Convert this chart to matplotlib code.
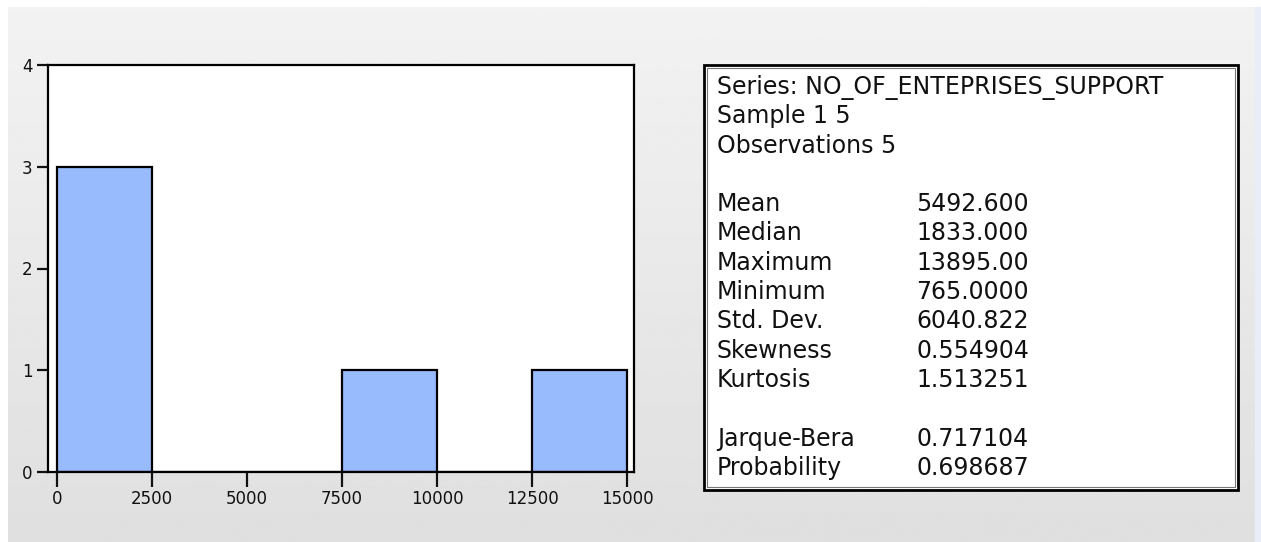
"""Histogram and descriptive statistics, EViews style"""
import numpy as np
import matplotlib.pyplot as plt
from matplotlib.patches import Rectangle

# histogram bins (left edges) and counts
bin_left = [0, 2500, 5000, 7500, 10000, 12500]
bin_width = 2500
counts = [3, 0, 0, 1, 0, 1]
xticks = [0, 2500, 5000, 7500, 10000, 12500, 15000]
yticks = [0, 1, 2, 3, 4]

# statistics panel
header = ["Series: NO_OF_ENTEPRISES_SUPPORT", "Sample 1 5", "Observations 5"]
stat_names = ["Mean", "Median", "Maximum", "Minimum", "Std. Dev.",
              "Skewness", "Kurtosis"]
stat_values = ["5492.600", "1833.000", "13895.00", "765.0000", "6040.822",
               "0.554904", "1.513251"]
test_names = ["Jarque-Bera", "Probability"]
test_values = ["0.717104", "0.698687"]

W, H = 1261, 542
fig = plt.figure(figsize=(W / 100, H / 100), dpi=100, facecolor="white")

# background panel (gray gradient) in pixel coordinates
bg = fig.add_axes([0, 0, 1, 1], zorder=-1)
bg.set_xlim(0, W)
bg.set_ylim(H, 0)
bg.axis("off")
grad = np.linspace(0.95, 0.875, 256).reshape(-1, 1)
bg.imshow(grad, cmap="gray", vmin=0, vmax=1, aspect="auto",
          extent=(8, 1255, H, 7), zorder=0)
bg.add_patch(Rectangle((1255, 7), 6, H - 7, color="#e8edf7", zorder=0))

# stats box with double border
bg.add_patch(Rectangle((704, 65), 534, 425, facecolor="white",
                       edgecolor="black", linewidth=2.0, zorder=1))
bg.add_patch(Rectangle((707, 68), 528, 419, facecolor="none",
                       edgecolor="#777777", linewidth=0.8, zorder=2))

txt = dict(fontsize=17, family="DejaVu Sans", color="#111111",
           va="center", ha="left", zorder=3)
y0, dy = 87, 29.3
for i, s in enumerate(header):
    bg.text(717, y0 + i * dy, s, **txt)
for i, (n, v) in enumerate(zip(stat_names, stat_values)):
    bg.text(717, y0 + (i + 4) * dy, n, **txt)
    bg.text(916, y0 + (i + 4) * dy, v, **txt)
for i, (n, v) in enumerate(zip(test_names, test_values)):
    bg.text(717, y0 + (i + 12) * dy, n, **txt)
    bg.text(916, y0 + (i + 12) * dy, v, **txt)

# histogram
ax = fig.add_axes([48 / W, 1 - 472 / H, 586 / W, 407 / H])
ax.set_facecolor("white")
ax.bar(bin_left, counts, width=bin_width, align="edge", color="#97bbfd",
       edgecolor="black", linewidth=1.6)
ax.set_xlim(-237, 15184)
ax.set_ylim(0, 4)
ax.set_xticks(xticks)
ax.set_xticklabels([str(t) for t in xticks])
ax.set_yticks(yticks)
for sp in ax.spines.values():
    sp.set_linewidth(1.6)
ax.tick_params(axis="x", direction="out", length=11, width=1.6, pad=2,
               labelsize=12, colors="#111111")
ax.tick_params(axis="y", direction="out", length=8, width=1.6, pad=3,
               labelsize=12, colors="#111111")

fig.savefig("out.png", dpi=100, facecolor="white")
